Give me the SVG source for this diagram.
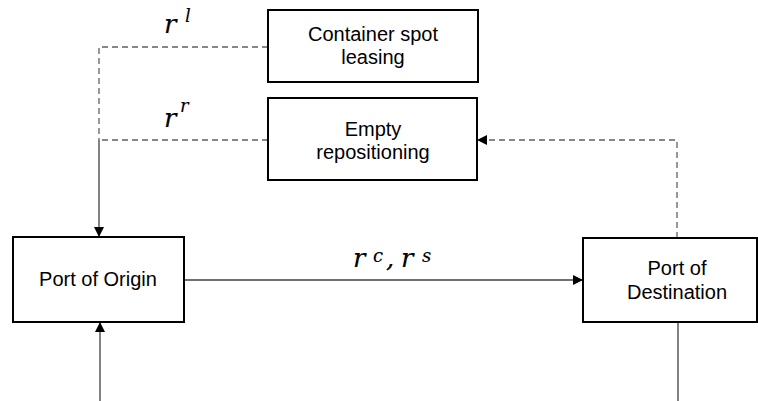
<svg xmlns="http://www.w3.org/2000/svg" width="758" height="401" viewBox="0 0 758 401">
  <style>
    .box { fill: #ffffff; stroke: #000000; stroke-width: 2; }
    .lbl { font-family: "Liberation Sans", Arial, sans-serif; font-size: 20px; fill: #000000; text-anchor: middle; }
    .math { font-family: "DejaVu Serif", "Liberation Serif", serif; font-style: italic; font-size: 26px; fill: #000000; stroke: #000000; stroke-width: 0.15; }
    .sup { font-size: 18px; stroke-width: 0.1; }
    .solid { fill: none; stroke: #404040; stroke-width: 1.3; }
    .dash { fill: none; stroke: #606060; stroke-width: 1.3; stroke-dasharray: 6 4; }
  </style>
  <defs>
    <marker id="arrow" viewBox="0 0 10 10" refX="10" refY="5" markerWidth="10" markerHeight="10" markerUnits="userSpaceOnUse" orient="auto">
      <path d="M0,0 L10,5 L0,10 z" fill="#000000"/>
    </marker>
  </defs>
  <rect width="758" height="401" fill="#ffffff"/>

  <g id="connectors">
    <!-- leasing and repositioning feed into the origin port -->
    <path class="dash" d="M268,47 H99 V140"/>
    <path class="dash" d="M268,140 H99"/>
    <path class="solid" d="M99,140 V237" marker-end="url(#arrow)"/>
    <!-- inflow from below -->
    <path class="solid" d="M100,401 V322" marker-end="url(#arrow)"/>
    <!-- laden flow origin to destination -->
    <path class="solid" d="M184,280 H583" marker-end="url(#arrow)"/>
    <!-- empties returned from destination -->
    <path class="dash" d="M677,238 V140 H477" marker-end="url(#arrow)"/>
    <!-- outflow below destination -->
    <path class="solid" d="M678,322 V401"/>
  </g>

  <g id="labels">
    <text class="math" x="164" y="33">r</text>
    <text class="math sup" x="185" y="22">l</text>
    <text class="math" x="164" y="127">r</text>
    <text class="math sup" x="180" y="112">r</text>
    <text class="math" x="353" y="267">r</text>
    <text class="math sup" x="373" y="262">c</text>
    <text class="math" x="386" y="267">,</text>
    <text class="math" x="401" y="267">r</text>
    <text class="math sup" x="422" y="262">s</text>
  </g>

  <g id="spot-leasing">
    <rect class="box" x="268" y="10" width="210" height="72"/>
    <text class="lbl" x="373" y="41">Container spot</text>
    <text class="lbl" x="373" y="64">leasing</text>
  </g>

  <g id="empty-repositioning">
    <rect class="box" x="268" y="98" width="209" height="82"/>
    <text class="lbl" x="373" y="136">Empty</text>
    <text class="lbl" x="373" y="159">repositioning</text>
  </g>

  <g id="port-origin">
    <rect class="box" x="13" y="237" width="171" height="85"/>
    <text class="lbl" x="98" y="286">Port of Origin</text>
  </g>

  <g id="port-destination">
    <rect class="box" x="583" y="238" width="174" height="84"/>
    <text class="lbl" x="677" y="275">Port of</text>
    <text class="lbl" x="677" y="299">Destination</text>
  </g>
</svg>
